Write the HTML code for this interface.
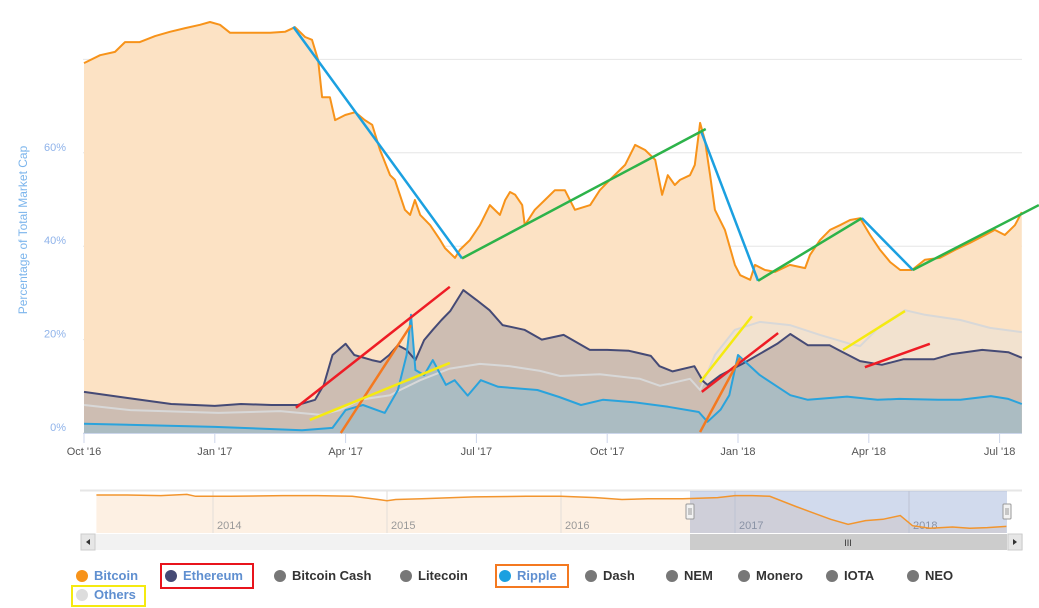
<!DOCTYPE html>
<html><head><meta charset="utf-8"><style>
body{margin:0;background:#fff;font-family:"Liberation Sans",sans-serif;}
#wrap{position:relative;width:1039px;height:608px;overflow:hidden;}
svg{position:absolute;left:0;top:0;}
.lg{position:absolute;font-size:13px;font-weight:bold;white-space:nowrap;}
.lg .dot{display:inline-block;width:12px;height:12px;border-radius:50%;vertical-align:-2px;margin-right:6px;}
.on{color:#5f8fd0;} .off{color:#333;}
.box{position:absolute;border:2px solid;}
</style></head><body>
<div id="wrap">
<svg id="chart" width="1039" height="608"></svg>
<div class="lg on" style="left:76px;top:568px"><span class="dot" style="background:#f7931a"></span>Bitcoin</div>
<div class="lg on" style="left:165px;top:568px"><span class="dot" style="background:#454a75"></span>Ethereum</div>
<div class="lg off" style="left:274px;top:568px"><span class="dot" style="background:#777"></span>Bitcoin Cash</div>
<div class="lg off" style="left:400px;top:568px"><span class="dot" style="background:#777"></span>Litecoin</div>
<div class="lg on" style="left:499px;top:568px"><span class="dot" style="background:#1ba0e0"></span>Ripple</div>
<div class="lg off" style="left:585px;top:568px"><span class="dot" style="background:#777"></span>Dash</div>
<div class="lg off" style="left:666px;top:568px"><span class="dot" style="background:#777"></span>NEM</div>
<div class="lg off" style="left:738px;top:568px"><span class="dot" style="background:#777"></span>Monero</div>
<div class="lg off" style="left:826px;top:568px"><span class="dot" style="background:#777"></span>IOTA</div>
<div class="lg off" style="left:907px;top:568px"><span class="dot" style="background:#777"></span>NEO</div>
<div class="lg on" style="left:76px;top:587px"><span class="dot" style="background:#ddd"></span>Others</div>
<div class="box" style="left:160px;top:563px;width:90px;height:22px;border-color:#e8141c"></div>
<div class="box" style="left:495px;top:564px;width:70px;height:20px;border-color:#f47920"></div>
<div class="box" style="left:71px;top:585px;width:71px;height:18px;border-color:#f5ea10"></div>
</div>
<script>
// months since 1 Oct 2016, dominance %
const btcM=[0,0.37,0.71,0.94,1.28,1.63,1.97,2.32,2.66,2.89,3.12,3.35,3.81,4.27,4.61,4.84,5.07,5.23,5.37,5.46,5.64,5.76,5.99,6.22,6.44,6.61,6.79,7.02,7.13,7.36,7.48,7.59,7.71,7.94,8.17,8.28,8.51,8.62,8.85,9.08,9.31,9.54,9.66,9.77,9.89,10.05,10.11,10.34,10.57,10.8,11.03,11.26,11.61,11.83,12.06,12.41,12.64,12.87,13.1,13.26,13.39,13.55,13.67,13.9,14.01,14.13,14.24,14.36,14.47,14.7,14.93,15.05,15.28,15.39,15.62,15.85,16.19,16.54,16.65,16.88,17.11,17.34,17.57,17.8,18.03,18.26,18.49,18.72,18.99,19.29,19.63,19.98,20.32,20.67,20.89,21.12,21.35,21.51];
const btcV=[79.2,80.9,81.6,83.7,83.7,85.0,85.9,86.7,87.4,88.0,87.4,85.7,85.7,85.7,85.9,86.9,84.8,84.2,79.9,71.9,71.9,67.0,68.1,68.7,67.0,66.0,60.6,55.2,54.2,47.8,46.7,49.9,46.7,44.5,41.3,39.6,37.5,39.2,41.3,44.5,48.8,46.7,49.9,51.6,51.0,48.8,44.5,47.8,49.9,52.0,52.0,47.8,48.8,52.0,54.2,57.4,61.7,60.6,58.5,51.0,55.2,53.1,54.2,55.2,57.4,66.4,62.7,55.2,47.8,43.5,36.0,33.8,32.8,36.0,34.9,34.5,36.0,35.3,38.1,41.3,43.5,44.5,45.6,46.0,42.4,39.2,36.6,34.9,34.9,37.1,37.5,39.2,40.7,42.4,43.5,42.4,44.5,47.3];
const ethM=[0,1,2,3,3.6,4.3,4.9,5.3,5.5,5.7,6.0,6.2,6.6,6.8,7.0,7.2,7.4,7.6,7.8,8.0,8.2,8.4,8.7,9.0,9.3,9.6,10.1,10.5,11.0,11.6,12.0,12.5,13.0,13.2,13.5,14.0,14.2,14.3,14.6,15.1,15.9,16.2,16.6,17.1,17.3,17.8,18.3,18.8,19.5,19.9,20.6,21.2,21.51];
const ethV=[8.8,7.5,6.2,5.8,6.2,6.0,6.0,7.1,10.3,16.7,19.1,16.7,15.6,15.2,16.7,18.8,17.8,15.6,19.9,22.1,24.2,26.1,30.6,28.5,26.3,23.1,22.1,20.0,21.0,17.8,17.8,17.6,16.5,14.3,13.2,14.3,11.1,10.3,12.4,14.8,19.1,21.2,18.8,18.8,17.8,15.4,14.6,15.8,15.8,16.9,17.8,17.3,16.1];
const xrpM=[0,3,5,5.7,6,6.4,6.9,7.2,7.4,7.5,7.6,7.8,8.0,8.3,8.5,8.8,9.1,9.5,10.4,10.9,11.4,11.9,12.6,13.4,14.1,14.3,14.6,14.8,15.0,15.5,16.2,16.6,17.5,18.2,18.7,19.6,20.1,20.8,21.2,21.51];
const xrpV=[2.0,1.3,0.6,1.1,4.9,6.0,4.3,9.2,16.7,25.3,13.5,12.4,15.6,10.3,11.3,8.0,11.3,9.9,9.2,7.7,6.0,7.1,6.6,5.6,4.5,2.4,5.0,8.1,16.7,12.4,8.1,7.1,7.8,7.1,7.3,7.1,7.1,7.9,7.3,6.2];
const othM=[0,1.06,3.08,4.5,5.41,5.87,6.33,7.02,7.25,7.71,8.39,9.08,9.77,10.46,10.92,11.83,12.75,13.21,13.9,14.13,14.47,14.93,15.5,16.19,16.88,17.57,17.8,18.26,18.83,19.29,20.1,20.78,21.51];
const othV=[6.0,4.9,4.3,4.7,3.9,4.9,7.1,8.1,9.2,11.3,13.8,14.8,14.3,13.3,12.2,12.6,11.6,10.1,11.6,9.2,16.7,22.1,23.8,23.1,21.0,19.1,18.6,22.9,26.3,25.3,24.2,22.5,21.6];
const yTicks=[0,20,40,60,80];
const yTickL=["0%","20%","40%","60%",""];
const xTickM=[0,3,6,9,12,15,18,21];
const xTickL=["Oct '16","Jan '17","Apr '17","Jul '17","Oct '17","Jan '18","Apr '18","Jul '18"];
// navigator: years since 2013, BTC %
const navT=[0.33,0.5,0.7,0.85,0.9,0.95,1.1,1.4,1.6,1.8,1.95,2.0,2.05,2.2,2.5,2.8,3.0,3.2,3.35,3.5,3.7,3.9,4.0,4.1,4.2,4.35,4.45,4.55,4.65,4.75,4.85,4.95,5.02,5.12,5.25,5.35,5.45,5.56];
const navV=[88,88,87,89,86,86,86,87,87,86,81,79,81,82,85,86,86,84,81,82,82,84,87,87,86,70,60,50,42,48,50,56,40,36,38,36,37,39];
const navYears=[2014,2015,2016,2017,2018];

const svg=document.getElementById('chart');
const NS='http://www.w3.org/2000/svg';
function mk(t,a,p){const e=document.createElementNS(NS,t);for(const k in a)e.setAttribute(k,a[k]);(p||svg).appendChild(e);return e;}
const X=m=>84+m*43.6, Y=v=>433-v*4.67;
const NX=t=>213+(t-1)*174, NY=v=>495+(88-v)*0.64;

yTicks.forEach((v,i)=>{const g=mk('line',{x1:83,x2:1022,y1:Y(v),y2:Y(v),stroke:'#e6e6e6'});

const t=mk('text',{x:66,y:Y(v)-2,'text-anchor':'end','font-size':11,fill:'#8fb3ea'});t.textContent=yTickL[i];
});
const yt=mk('text',{x:0,y:0,transform:'translate(27,230) rotate(-90)','text-anchor':'middle','font-size':12,fill:'#7cb5ec'});
yt.textContent='Percentage of Total Market Cap';


function area(M,V,fill,name){
 let d='M'+X(M[0])+','+Y(0);let l='';
 M.forEach((m,i)=>{d+='L'+X(m).toFixed(1)+','+Y(V[i]).toFixed(1);l+=(i?'L':'M')+X(m).toFixed(1)+','+Y(V[i]).toFixed(1);});
 d+='L'+X(M[M.length-1])+','+Y(0)+'Z';
 const a=mk('path',{d:d,fill:fill});
 return l;}
const lb=area(btcM,btcV,'#fce2c4','bitcoin');
const lo=area(othM,othV,'#f2e2cf','others');
const le=area(ethM,ethV,'#cdbdb2','ethereum');
const lr=area(xrpM,xrpV,'#abbcc2','ripple');
[[lo,'#d8d8d8','others-line'],[le,'#454a75','ethereum-line'],[lr,'#2aa3dc','ripple-line'],[lb,'#f7931a','bitcoin-line']].forEach(s=>{
 const p=mk('path',{d:s[0],fill:'none',stroke:s[1],'stroke-width':2,'stroke-linejoin':'round'});
 });

const ax=mk('line',{x1:83,x2:1022,y1:433.5,y2:433.5,stroke:'#ccd6eb'});

xTickM.forEach((m,i)=>{const tk=mk('line',{x1:X(m),x2:X(m),y1:433,y2:443,stroke:'#ccd6eb'});

const t=mk('text',{x:X(m),y:455,'text-anchor':'middle','font-size':11,fill:'#555'});t.textContent=xTickL[i];
});

const ann=[
['#1ba0e0',[[4.8,87.0],[8.67,37.4]]],['#1ba0e0',[[14.15,64.7],[15.46,32.6]]],['#1ba0e0',[[17.84,46.0],[19.01,34.9]]],
['#2db34a',[[8.67,37.4],[14.26,65.1]]],['#2db34a',[[15.46,32.6],[17.84,46.0]]],['#2db34a',[[19.01,34.9],[21.9,48.8]]],
['#ee1c25',[[4.86,5.4],[8.39,31.3]]],['#ee1c25',[[14.17,8.8],[15.92,21.4]]],['#ee1c25',[[17.91,14.1],[19.4,19.1]]],
['#f47920',[[5.89,0],[7.5,23.1]]],['#f47920',[[14.13,0.2],[15.05,16.1]]],
['#f5ea10',[[5.18,2.8],[8.39,15.0]]],['#f5ea10',[[14.13,10.9],[15.32,25.0]]],['#f5ea10',[[17.41,17.8],[18.83,26.1]]]];
ann.forEach(a=>{const l=mk('line',{x1:X(a[1][0][0]),y1:Y(a[1][0][1]),x2:X(a[1][1][0]),y2:Y(a[1][1][1]),stroke:a[0],'stroke-width':2.5});
});

const nb=mk('line',{x1:80,x2:1022,y1:490.5,y2:490.5,stroke:'#e6e6e6','stroke-width':2});

let nd='M'+NX(navT[0])+',533',nl='';
navT.forEach((t,i)=>{nd+='L'+NX(t).toFixed(1)+','+NY(navV[i]).toFixed(1);nl+=(i?'L':'M')+NX(t).toFixed(1)+','+NY(navV[i]).toFixed(1);});
nd+='L'+NX(navT[navT.length-1])+',533Z';
const na=mk('path',{d:nd,fill:'#fdf0e3'});
navYears.forEach(y=>{const g=mk('line',{x1:NX(y-2013),x2:NX(y-2013),y1:491,y2:533,stroke:'#e2ded9'});

const t=mk('text',{x:NX(y-2013)+4,y:529,'font-size':11,fill:'#999'});t.textContent=y;
});
const sel=mk('rect',{x:690,y:491,width:317,height:42,fill:'rgba(102,133,194,0.3)'});

const nln=mk('path',{d:nl,fill:'none',stroke:'#f2952e','stroke-width':1.5});

[690,1007].forEach(x=>{const h=mk('rect',{x:x-4,y:504,width:8,height:15,fill:'#f2f2f2',stroke:'#999',rx:1});

mk('line',{x1:x-1,x2:x-1,y1:508,y2:515,stroke:'#999'});mk('line',{x1:x+1,x2:x+1,y1:508,y2:515,stroke:'#999'});});
const sb=mk('rect',{x:81,y:534,width:942,height:16,fill:'#f2f2f2'});

const st=mk('rect',{x:690,y:534,width:317,height:16,fill:'#cccccc'});

mk('text',{x:848,y:546,'text-anchor':'middle','font-size':9,fill:'#333'}).textContent='III';
const bl=mk('rect',{x:81,y:534,width:14,height:16,fill:'#e6e6e6',stroke:'#ccc'});

mk('path',{d:'M90,539 L86,542 L90,545Z',fill:'#333'});
const br=mk('rect',{x:1008,y:534,width:14,height:16,fill:'#e6e6e6',stroke:'#ccc'});

mk('path',{d:'M1013,539 L1017,542 L1013,545Z',fill:'#333'});
</script>
</body></html>
